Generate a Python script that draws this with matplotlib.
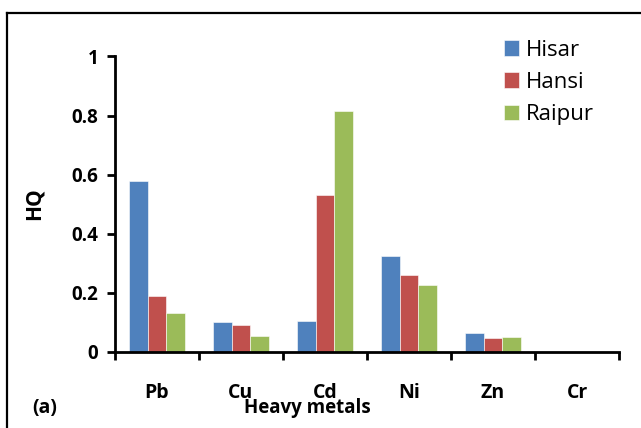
import matplotlib
matplotlib.use("Agg")
import matplotlib.pyplot as plt
from matplotlib.lines import Line2D
import numpy as np

metals = ["Pb", "Cu", "Cd", "Ni", "Zn", "Cr"]
hisar = [0.578, 0.100, 0.105, 0.324, 0.063, 0.0]
hansi = [0.188, 0.090, 0.532, 0.261, 0.047, 0.0]
raipur = [0.131, 0.052, 0.816, 0.227, 0.050, 0.0]
sites = ["Hisar", "Hansi", "Raipur"]
colors = ["#4F81BD", "#C0504D", "#9BBB59"]

plt.rcParams["font.family"] = ["Open Sans", "DejaVu Sans"]

fig = plt.figure(figsize=(6.41, 4.28), dpi=100)
ax = fig.add_axes([0.1794, 0.1787, 0.7863, 0.6893])

x = np.arange(len(metals))
w = 0.222
for i, (vals, name, c) in enumerate(zip([hisar, hansi, raipur], sites, colors)):
    ax.bar(x + (i - 1) * w, vals, width=w, color=c, label=name,
           edgecolor="white", linewidth=0.4)

ax.set_xlim(-0.5, len(metals) - 0.5)
ax.set_ylim(0, 1)
ax.set_yticks(np.arange(0, 1.01, 0.2))
ax.set_yticklabels(["0", "0.2", "0.4", "0.6", "0.8", "1"], fontsize=13.5, fontweight="bold")
ax.set_xticks(np.arange(-0.5, len(metals), 1))
ax.set_xticklabels([])
ax.set_xticks(x, minor=True)
ax.set_xticklabels(metals, minor=True, fontsize=14, fontweight="bold")
ax.tick_params(axis="x", which="minor", length=0, pad=23)
ax.tick_params(axis="x", which="major", direction="out", length=6, width=2)
ax.tick_params(axis="y", direction="out", length=6, width=2, pad=6)

for s in ["top", "right"]:
    ax.spines[s].set_visible(False)
for s in ["left", "bottom"]:
    ax.spines[s].set_linewidth(2)

ax.set_ylabel("HQ", fontsize=15, fontweight="bold")
ax.yaxis.set_label_coords(-0.139, 0.5)
fig.text(0.479, 0.047, "Heavy metals", fontsize=13.5, fontweight="bold",
         ha="center", va="center")
fig.text(0.069, 0.047, "(a)", fontsize=14, fontweight="bold", ha="center", va="center")

fig.legend(loc="upper left", bbox_to_anchor=(0.786, 0.907), frameon=False,
           fontsize=16, handlelength=0.68, handleheight=0.68, handletextpad=0.32,
           labelspacing=0.5, borderpad=0, borderaxespad=0)

# outer chart border (top and left visible)
fig.add_artist(Line2D([7 / 641, 1], [1 - 12.5 / 428, 1 - 12.5 / 428],
                      color="black", linewidth=1.6, transform=fig.transFigure))
fig.add_artist(Line2D([7 / 641, 7 / 641], [0, 1 - 12.5 / 428],
                      color="black", linewidth=1.6, transform=fig.transFigure))

fig.savefig("out.png", dpi=100)
